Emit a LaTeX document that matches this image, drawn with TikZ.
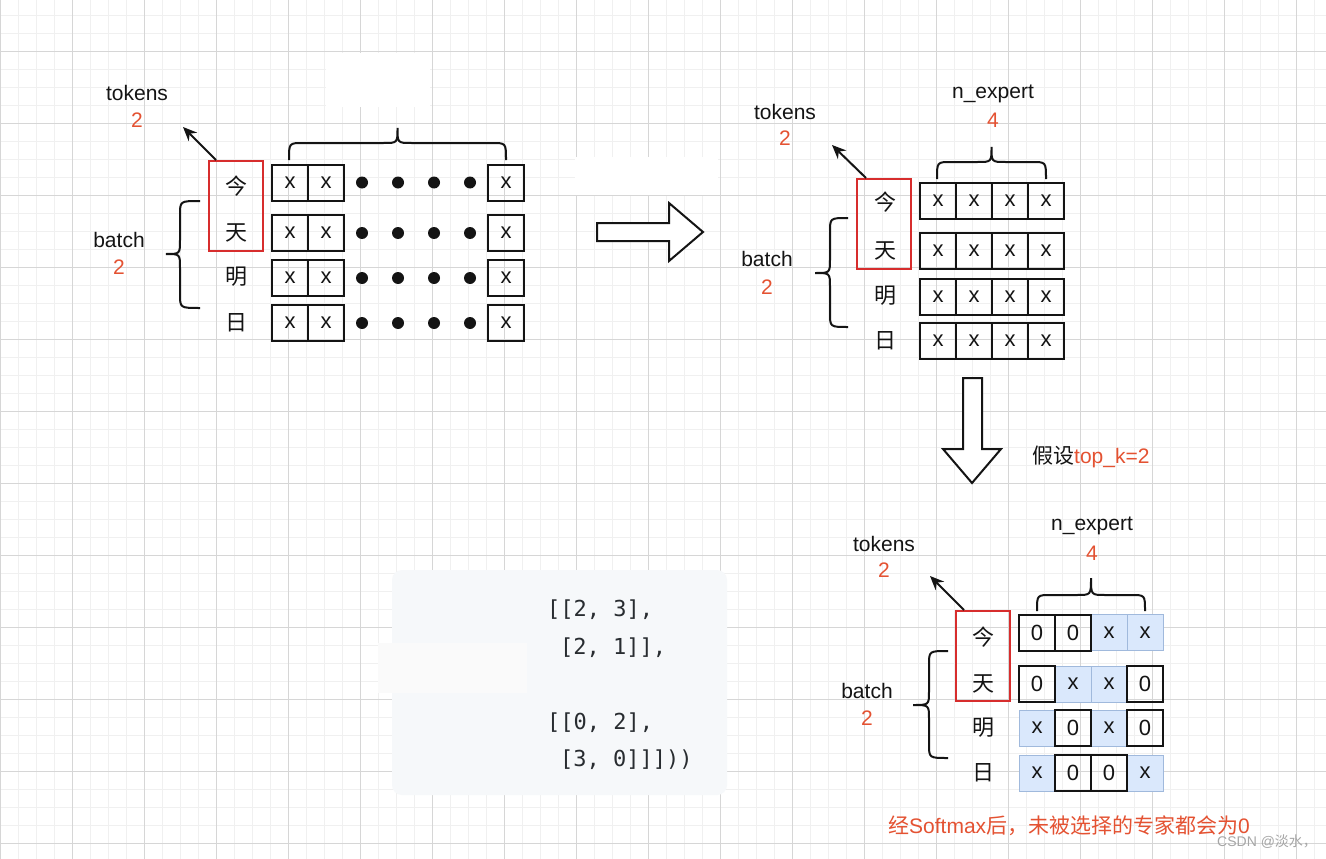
\documentclass[tikz,border=0pt]{standalone}
\usepackage{fontspec}
\setmainfont{Liberation Sans}
\setmonofont{DejaVu Sans Mono}
\newfontfamily\cjk{Noto Sans CJK SC}
\usetikzlibrary{arrows.meta}
\definecolor{txt}{RGB}{20,20,20}
\definecolor{orng}{RGB}{228,82,50}
\definecolor{redb}{RGB}{215,45,45}
\definecolor{bluefill}{RGB}{218,232,252}
\definecolor{blueline}{RGB}{160,185,220}
\definecolor{gridminor}{RGB}{240,240,240}
\definecolor{gridmajor}{RGB}{214,214,214}
\definecolor{codebg}{RGB}{246,248,250}
\definecolor{codetxt}{RGB}{40,44,48}
\definecolor{patch}{RGB}{250,250,250}
\newcommand\mytopbrace[5]{% x1 x2 yb yt ytip
  \draw[bracestyle] (#1,#3) .. controls (#1,#4) .. ({#1+14},#4) -- ({(#1+#2)/2-14},#4)
    .. controls ({(#1+#2)/2},#4) .. ({(#1+#2)/2},#5)
    .. controls ({(#1+#2)/2},#4) .. ({(#1+#2)/2+14},#4) -- ({#2-14},#4)
    .. controls (#2,#4) .. (#2,#3);}
\newcommand\myleftbrace[6]{% xe xm xt y1 y2 ytip
  \draw[bracestyle] (#1,#4) .. controls (#2,#4) .. (#2,{#4+14}) -- (#2,{#6-14})
    .. controls (#2,#6) .. (#3,#6)
    .. controls (#2,#6) .. (#2,{#6+14}) -- (#2,{#5-14})
    .. controls (#2,#5) .. (#1,#5);}
\tikzset{
  bracestyle/.style={draw=txt, line width=2pt},
  lbl/.style={font=\fontsize{21}{24}\selectfont, text=txt, inner sep=0pt},
  num/.style={font=\fontsize{21}{24}\selectfont, text=orng, inner sep=0pt},
  ch/.style={font=\cjk\fontsize{22}{24}\selectfont, text=txt, inner sep=0pt},
  cell/.style={draw=txt, line width=2pt, minimum width=36pt, minimum height=36pt, inner sep=0pt, font=\fontsize{22}{24}\selectfont, text=txt},
  bcell/.style={cell, fill=bluefill, draw=blueline, line width=1pt},
  redbox/.style={draw=redb, line width=2pt, minimum width=54pt, minimum height=90pt, inner sep=0pt},
  dot/.style={circle, fill=txt, minimum size=12pt, inner sep=0pt},
  ptr/.style={draw=txt, line width=2pt, -{Stealth[length=14pt,width=12pt]}},
  blockarrow/.style={draw=txt, fill=white, line width=2pt, line join=miter},
  code/.style={font=\ttfamily\fontsize{22}{26}\selectfont, text=codetxt, inner sep=0pt, anchor=west},
}
\begin{document}
\begin{tikzpicture}[x=1pt,y=-1pt]
\useasboundingbox (0,0) rectangle (1326,859);
\fill[white] (0,0) rectangle (1326,859);
% grid
\foreach \i in {0,...,73} \draw[gridminor, line width=1pt] ({0.5+18*\i},0) -- ({0.5+18*\i},859);
\foreach \i in {0,...,47} \draw[gridminor, line width=1pt] (0,{15.5+18*\i}) -- (1326,{15.5+18*\i});
\foreach \i in {0,...,18} \draw[gridmajor, line width=1pt] ({0.5+72*\i},0) -- ({0.5+72*\i},859);
\foreach \i in {0,...,11} \draw[gridmajor, line width=1pt] (0,{51.5+72*\i}) -- (1326,{51.5+72*\i});
% white patches
\fill[white] (326,53) rectangle (430,107);
\fill[white] (575,157) rectangle (718,195);

% ================= Panel 1 =================
\node[lbl] (tok1) at (137,93) {tokens};
\node[num] (tok1n) at (137,120) {2};
\node[lbl] (bat1) at (119,240) {batch};
\node[num] (bat1n) at (119,267) {2};
\node[redbox] (r1) at (236,206) {};
\node[ch] (a1) at (236,186) {今};
\node[ch] (b1) at (236,233) {天};
\node[ch] (c1) at (236,277) {明};
\node[ch] (d1) at (236,323) {日};
\foreach \r/\y in {1/182.5,2/233,3/278,4/323}{
  \node[cell] (p1r\r c1) at (290,\y) {x};
  \node[cell] (p1r\r c2) at (326,\y) {x};
  \node[cell] (p1r\r c3) at (506,\y) {x};
  \foreach \k/\xx in {1/362,2/398,3/434,4/470}
    \node[dot] (p1r\r d\k) at (\xx,\y) {};
}
\coordinate (e1) at (183,127);
\draw[ptr] ([xshift=8pt]r1.north west) -- (e1);
\mytopbrace{289}{506}{160}{143}{128}
\myleftbrace{200}{180}{166}{201}{308}{254}

% right block arrow
\draw[blockarrow] (597,223) -- (669,223) -- (669,203) -- (703,232) -- (669,261) -- (669,241) -- (597,241) -- cycle;

% ================= Panel 2 =================
\node[lbl] (tok2) at (785,112) {tokens};
\node[num] (tok2n) at (785,138) {2};
\node[lbl] (ne2) at (993,94) {n\_expert};
\node[num] (ne2n) at (993,120) {4};
\node[lbl] (bat2) at (767,259) {batch};
\node[num] (bat2n) at (767,287) {2};
\node[redbox] (r2) at (884,224) {};
\node[ch] (a2) at (885,202) {今};
\node[ch] (b2) at (885,251) {天};
\node[ch] (c2) at (885,296) {明};
\node[ch] (d2) at (885,341) {日};
\foreach \r/\y in {1/200.5,2/251,3/296.5,4/341}{
  \foreach \c/\xx in {1/938,2/974,3/1010,4/1046}
    \node[cell] (p2r\r c\c) at (\xx,\y) {x};
}
\coordinate (e2) at (832,145);
\draw[ptr] ([xshift=10pt]r2.north west) -- (e2);
\mytopbrace{937}{1046}{179}{162}{147}
\myleftbrace{848}{830}{815}{218}{327}{273}

% down block arrow
\draw[blockarrow] (963,378) -- (982,378) -- (982,449) -- (1001,449) -- (972,483) -- (943,449) -- (963,449) -- cycle;
\node[lbl, anchor=west] (topk) at (1032,457) {{\cjk 假设}\textcolor{orng}{top\_k=2}};

% ================= Panel 3 =================
\node[lbl] (tok3) at (884,544) {tokens};
\node[num] (tok3n) at (884,570) {2};
\node[lbl] (ne3) at (1092,526) {n\_expert};
\node[num] (ne3n) at (1092,553) {4};
\node[lbl] (bat3) at (867,691) {batch};
\node[num] (bat3n) at (867,718) {2};
\node[redbox] (r3) at (983,656) {};
\node[ch] (a3) at (983,637) {今};
\node[ch] (b3) at (983,684) {天};
\node[ch] (c3) at (983,728) {明};
\node[ch] (d3) at (983,773) {日};
% blue (selected) cells
\node[bcell] (p3r1c3) at (1109,632.5) {x};
\node[bcell] (p3r1c4) at (1145,632.5) {x};
\node[bcell] (p3r2c2) at (1073,684) {x};
\node[bcell] (p3r2c3) at (1109,684) {x};
\node[bcell] (p3r3c1) at (1037,728) {x};
\node[bcell] (p3r3c3) at (1109,728) {x};
\node[bcell] (p3r4c1) at (1037,773) {x};
\node[bcell] (p3r4c4) at (1145,773) {x};
% zero cells
\node[cell] (p3r1c1) at (1037,632.5) {0};
\node[cell] (p3r1c2) at (1073,632.5) {0};
\node[cell] (p3r2c1) at (1037,684) {0};
\node[cell] (p3r2c4) at (1145,684) {0};
\node[cell] (p3r3c2) at (1073,728) {0};
\node[cell] (p3r3c4) at (1145,728) {0};
\node[cell] (p3r4c2) at (1073,773) {0};
\node[cell] (p3r4c3) at (1109,773) {0};
\coordinate (e3) at (930,576);
\draw[ptr] ([xshift=9pt]r3.north west) -- (e3);
\mytopbrace{1037}{1145}{611}{595}{578}
\myleftbrace{948}{929}{913}{651}{758}{705}

\node[lbl, text=orng, anchor=west] (note) at (888,826) {{\cjk 经}Softmax{\cjk 后，未被选择的专家都会为}0};
\node[font=\fontsize{14}{16}\selectfont, text=gray!70, anchor=west, inner sep=0pt] (wm) at (1217,842) {CSDN @{\cjk 淡水，}};

% ================= Code box =================
\fill[codebg, rounded corners=10pt] (392,570) rectangle (727,795);
\fill[patch] (378,643) rectangle (527,693);
\node[code] (l1) at (547,610) {[[2, 3],};
\node[code] (l2) at (560,648) {[2, 1]],};
\node[code] (l3) at (547,723) {[[0, 2],};
\node[code] (l4) at (560,760) {[3, 0]]]))};
\end{tikzpicture}
\end{document}
